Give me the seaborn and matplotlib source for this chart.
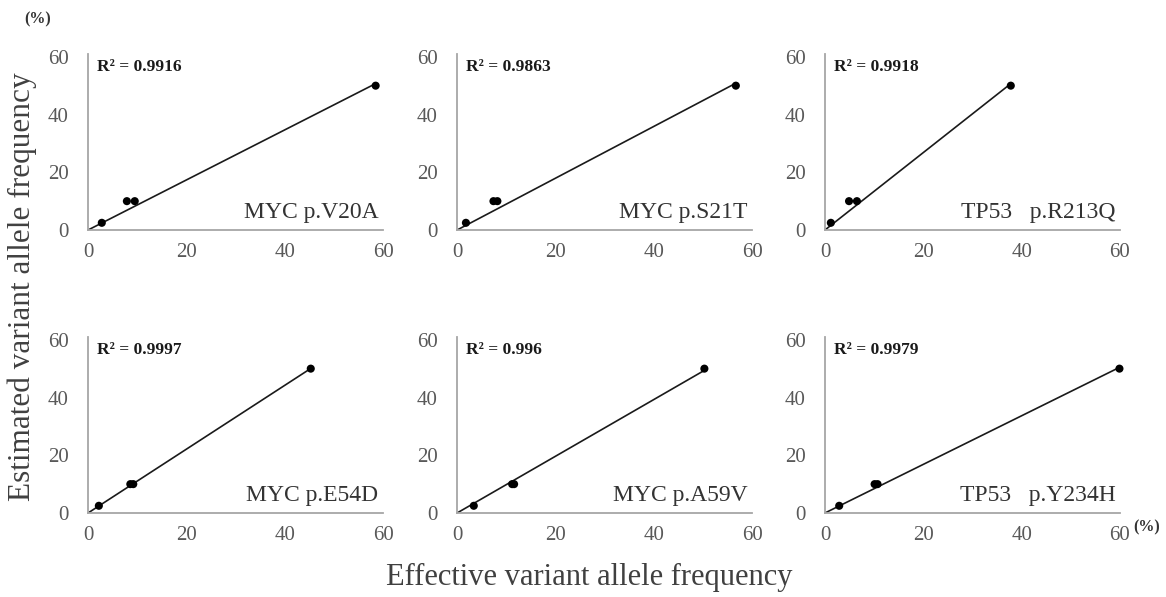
import numpy as np
import pandas as pd
import matplotlib
matplotlib.use('Agg')
import matplotlib.pyplot as plt
import seaborn as sns

# Effective (x) and estimated (y) VAF for each variant
titles = ['MYC p.V20A', 'MYC p.S21T', 'TP53   p.R213Q',
          'MYC p.E54D', 'MYC p.A59V', 'TP53   p.Y234H']
r2_labels = ['0.9916', '0.9863', '0.9918', '0.9997', '0.996', '0.9979']

x_v20a = [2.8, 7.9, 9.5, 58.5]
x_s21t = [1.8, 7.4, 8.2, 56.7]
x_r213q = [1.2, 4.9, 6.5, 37.8]
x_e54d = [2.2, 8.6, 9.2, 45.3]
x_a59v = [3.4, 11.2, 11.6, 50.3]
x_y234h = [2.9, 10.1, 10.7, 59.9]
y_est = [2.5, 10, 10, 50]

x_values = [x_v20a, x_s21t, x_r213q, x_e54d, x_a59v, x_y234h]

sns.set_style("white")
plt.rcParams['font.family'] = ['Liberation Serif', 'DejaVu Serif']

fig = plt.figure(figsize=(11.66, 5.97), dpi=100)

lefts = [0.0755, 0.392, 0.7075]
bottoms = [0.6147, 0.1407]
w, h = 0.253, 0.295

tick_color = '#595959'
spine_color = '#a6a6a6'

for i, (title, r2, xs) in enumerate(zip(titles, r2_labels, x_values)):
    row, col = divmod(i, 3)
    ax = fig.add_axes([lefts[col], bottoms[row], w, h])
    df = pd.DataFrame({'effective': xs, 'estimated': y_est})

    # linear trendline through origin
    xa = np.array(xs)
    ya = np.array(y_est)
    slope = (xa * ya).sum() / (xa * xa).sum()
    fit = pd.DataFrame({'x': [0, xa.max()], 'y': [0, slope * xa.max()]})
    sns.lineplot(data=fit, x='x', y='y', color='#1a1a1a', lw=1.2, ax=ax)
    sns.scatterplot(data=df, x='effective', y='estimated', color='black',
                    s=34, edgecolor='none', ax=ax, clip_on=False, zorder=3)

    ax.set_xlim(0, 60)
    ax.set_ylim(0, 61)
    ax.set_xticks([0, 20, 40, 60])
    ax.set_yticks([0, 20, 40, 60])
    ax.set_xlabel('')
    ax.set_ylabel('')
    ax.tick_params(axis='x', length=0, pad=9, labelsize=15, labelcolor=tick_color)
    ax.tick_params(axis='y', length=0, pad=14, labelsize=15, labelcolor=tick_color)
    for s in ['top', 'right']:
        ax.spines[s].set_visible(False)
    for s in ['left', 'bottom']:
        ax.spines[s].set_color(spine_color)
        ax.spines[s].set_linewidth(1.3)

    ax.text(0.03, 0.905, 'R\u00b2 = ' + r2, transform=ax.transAxes,
            fontsize=12.5, fontweight='bold', color='#1a1a1a', va='baseline')
    ax.text(0.985, 0.068, title, transform=ax.transAxes, ha='right',
            va='baseline', fontsize=17, color='#333333')

fig.text(0.019, 0.52, 'Estimated variant allele frequency', rotation=90,
         ha='center', va='center', fontsize=22.5, color='#404040')
fig.text(0.505, 0.032, 'Effective variant allele frequency',
         ha='center', va='center', fontsize=22, color='#404040')
fig.text(0.021, 0.967, '(%)', ha='left', va='center', fontsize=11.5,
         fontweight='bold', color='#333333')
fig.text(0.972, 0.117, '(%)', ha='left', va='center', fontsize=11.5,
         fontweight='bold', color='#333333')

fig.savefig('out.png', dpi=100)
